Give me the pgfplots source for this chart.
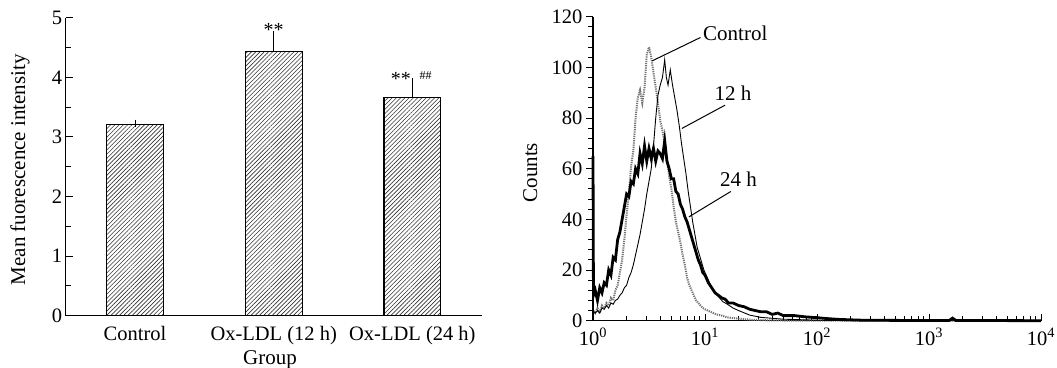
\documentclass[border=0pt]{standalone}
\usepackage{pgfplots}
\pgfplotsset{compat=1.18}
\usepackage{fontspec}
\setmainfont{Liberation Serif}
\usetikzlibrary{patterns.meta}
\begin{document}
\begin{tikzpicture}
\useasboundingbox (0,0) rectangle (1057pt,367pt);
% ---------------- left: bar chart ----------------
\begin{axis}[
  at={(65.7pt,51.3pt)}, anchor=south west, scale only axis,
  width=416pt, height=298pt,
  xmin=-0.5, xmax=2.5, ymin=0, ymax=5,
  axis x line=bottom, axis y line=left,
  axis line style={-, line width=1.2pt},
  xtick={0,1,2}, xticklabels={Control, Ox-LDL (12 h), Ox-LDL (24 h)},
  xtick style={draw=none},
  xticklabel style={yshift=-7pt},
  ytick={0,1,2,3,4,5}, minor y tick num=1,
  tick align=inside, major tick length=7pt, minor tick length=5pt,
  tick style={line width=1pt, black},
  /pgf/number format/assume math mode=true,
  tick label style={font=\fontsize{20.5}{24}\selectfont},
  xlabel={Group}, ylabel={Mean fuorescence intensity},
  label style={font=\fontsize{21}{24}\selectfont},
  xlabel style={at={(axis description cs:0.491,-0.147)}, anchor=center},
  ylabel style={at={(axis description cs:-0.11,0.49)}, anchor=center},
  clip=false,
]
\addplot[ybar, bar width=56.7pt, draw=black, line width=1.1pt,
  pattern={Lines[angle=45,distance=3pt,line width=0.6pt]}, pattern color=black!80,
  error bars/.cd, y dir=plus, y explicit,
  error bar style={line width=1pt, black},
  error mark options={line width=1pt, mark size=3.5pt, black}]
  coordinates {(0,3.21) +- (0,0.02) (1,4.44) +- (0,0.28) (2,3.66) +- (0,0.27)};
\node[font=\fontsize{20}{24}\selectfont] at (axis cs:1,4.80) {**};
\node[font=\fontsize{20}{24}\selectfont] at (axis cs:1.918,3.97) {**};
\node[font=\fontsize{12}{14}\selectfont] at (axis cs:2.095,4.03) {\#\#};
\end{axis}
% ---------------- right: histogram ----------------
\begin{axis}[
  at={(593pt,46.3pt)}, anchor=south west, scale only axis,
  width=448pt, height=304pt,
  xmin=0, xmax=4, ymin=0, ymax=120,
  axis x line=bottom, axis y line=left,
  x axis line style={-, line width=1.3pt},
  y axis line style={-, line width=2.5pt},
  xtick={0,1,2,3,4},
  xticklabels={10\textsuperscript{0},10\textsuperscript{1},10\textsuperscript{2},10\textsuperscript{3},10\textsuperscript{4}},
  xticklabel style={yshift=-4pt},
  minor xtick={0.301,0.477,0.602,0.699,0.778,0.845,0.903,0.954,
               1.301,1.477,1.602,1.699,1.778,1.845,1.903,1.954,
               2.301,2.477,2.602,2.699,2.778,2.845,2.903,2.954,
               3.301,3.477,3.602,3.699,3.778,3.845,3.903,3.954},
  ytick=\empty,
  tick align=inside, major tick length=7pt, minor tick length=4.5pt,
  tick style={line width=1pt, black},
  /pgf/number format/assume math mode=true,
  tick label style={font=\fontsize{20.5}{24}\selectfont},
  clip=false,
]
% Control (dotted grey)
\addplot[black!55, line width=2pt, dash pattern=on 1.2pt off 1pt] coordinates {
(0.00,4) (0.02,3) (0.04,5) (0.06,3) (0.08,6) (0.10,5) (0.12,7) (0.14,6) (0.16,9) (0.18,8)
(0.20,12) (0.22,14) (0.24,19) (0.26,24) (0.28,32) (0.30,42) (0.32,50) (0.34,61) (0.36,67) (0.38,80)
(0.40,88) (0.42,91) (0.44,86) (0.46,92) (0.48,105) (0.50,108) (0.52,104) (0.54,98) (0.56,92) (0.58,86)
(0.60,79) (0.62,75) (0.64,70) (0.66,64) (0.68,57) (0.70,52) (0.72,45) (0.74,39) (0.76,35) (0.78,31)
(0.80,26) (0.82,22) (0.84,17) (0.86,14) (0.88,12) (0.90,10) (0.92,8) (0.94,7) (0.96,6) (0.98,5)
(1.00,4.5) (1.05,3.5) (1.10,2.5) (1.15,2) (1.20,1.3) (1.30,0.8) (1.40,0.4) (1.60,0.1) (2.00,0) (4.00,0)
};
% 12 h (thin solid)
\addplot[black, line width=0.9pt] coordinates {
(0.00,4) (0.02,3) (0.04,4) (0.06,3) (0.08,5) (0.10,4.5) (0.12,6) (0.14,5) (0.16,7) (0.18,6.5)
(0.20,8) (0.22,8.5) (0.24,10) (0.26,11) (0.28,13) (0.30,14) (0.32,17) (0.34,19) (0.36,22) (0.38,26)
(0.40,30) (0.42,34) (0.44,39) (0.46,44) (0.48,50) (0.50,55) (0.52,60) (0.54,69) (0.56,80) (0.58,89)
(0.60,93) (0.62,96) (0.64,103) (0.655,96) (0.67,93) (0.69,99) (0.71,93) (0.73,88) (0.75,83) (0.77,77)
(0.79,70) (0.81,64) (0.83,58) (0.85,51) (0.87,45) (0.89,39) (0.91,34) (0.93,29) (0.95,26) (0.97,23)
(0.99,20) (1.02,17) (1.05,14) (1.08,11.5) (1.12,9.5) (1.16,7.5) (1.20,6.5) (1.25,5) (1.30,4) (1.40,2.2)
(1.50,1.3) (1.70,0.6) (2.00,0.2) (2.30,0) (4.00,0)
};
% 24 h (thick solid)
\addplot[black, line width=2.8pt] coordinates {
(0,65) (0.004,10) (0.02,12) (0.04,8) (0.06,13) (0.08,11) (0.10,15) (0.12,14) (0.14,20) (0.16,18)
(0.18,25) (0.20,24) (0.22,32) (0.24,35) (0.26,40) (0.28,45) (0.30,50) (0.32,49) (0.34,55) (0.36,54)
(0.38,60) (0.40,58) (0.42,66) (0.44,62) (0.46,69) (0.48,63) (0.50,68) (0.52,64) (0.54,68) (0.56,63)
(0.58,67) (0.60,66) (0.62,64) (0.64,71) (0.66,63) (0.68,60) (0.70,56) (0.72,56) (0.74,51) (0.76,50)
(0.78,46) (0.80,44) (0.82,41) (0.84,39) (0.86,36) (0.88,33) (0.90,30) (0.92,27) (0.94,24) (0.96,22)
(0.98,19) (1.00,18) (1.03,15) (1.06,13) (1.09,11) (1.12,10) (1.15,9) (1.18,8.5) (1.21,7) (1.25,7)
(1.30,6) (1.35,5.5) (1.40,4.5) (1.45,4) (1.50,3.5) (1.55,3.5) (1.60,2.5) (1.65,3) (1.70,2) (1.80,2)
(1.90,1.5) (2.00,1.2) (2.10,0.8) (2.20,0.5) (2.40,0.2) (2.80,0.1) (3.18,0.1) (3.21,1) (3.24,0.1) (4.00,0)
};
\draw[line width=1pt] (axis cs:0.53,102.6) -- (axis cs:0.96,111.8);
\node[font=\fontsize{21}{24}\selectfont] at (axis cs:1.27,113.4) {Control};
\draw[line width=1pt] (axis cs:0.794,75.9) -- (axis cs:1.18,85.1);
\node[font=\fontsize{21}{24}\selectfont] at (axis cs:1.25,89.7) {12 h};
\draw[line width=1pt] (axis cs:0.857,41) -- (axis cs:1.23,51);
\node[font=\fontsize{21}{24}\selectfont] at (axis cs:1.30,56) {24 h};
\end{axis}
% y axis of the histogram (ticks outside)
\begin{axis}[
  at={(593pt,46.3pt)}, anchor=south west, scale only axis,
  width=448pt, height=304pt,
  xmin=0, xmax=4, ymin=0, ymax=120,
  axis x line=bottom, axis y line=left, hide x axis,
  y axis line style={-, line width=2.5pt},
  ytick={0,20,40,60,80,100,120}, minor y tick num=4,
  tick align=outside, major tick length=7pt, minor tick length=5pt,
  tick style={line width=1pt, black},
  /pgf/number format/assume math mode=true,
  tick label style={font=\fontsize{20.5}{24}\selectfont},
  ylabel={Counts},
  label style={font=\fontsize{21}{24}\selectfont},
  ylabel style={at={(axis description cs:-0.14,0.487)}, anchor=center},
]
\end{axis}
\end{tikzpicture}
\end{document}
